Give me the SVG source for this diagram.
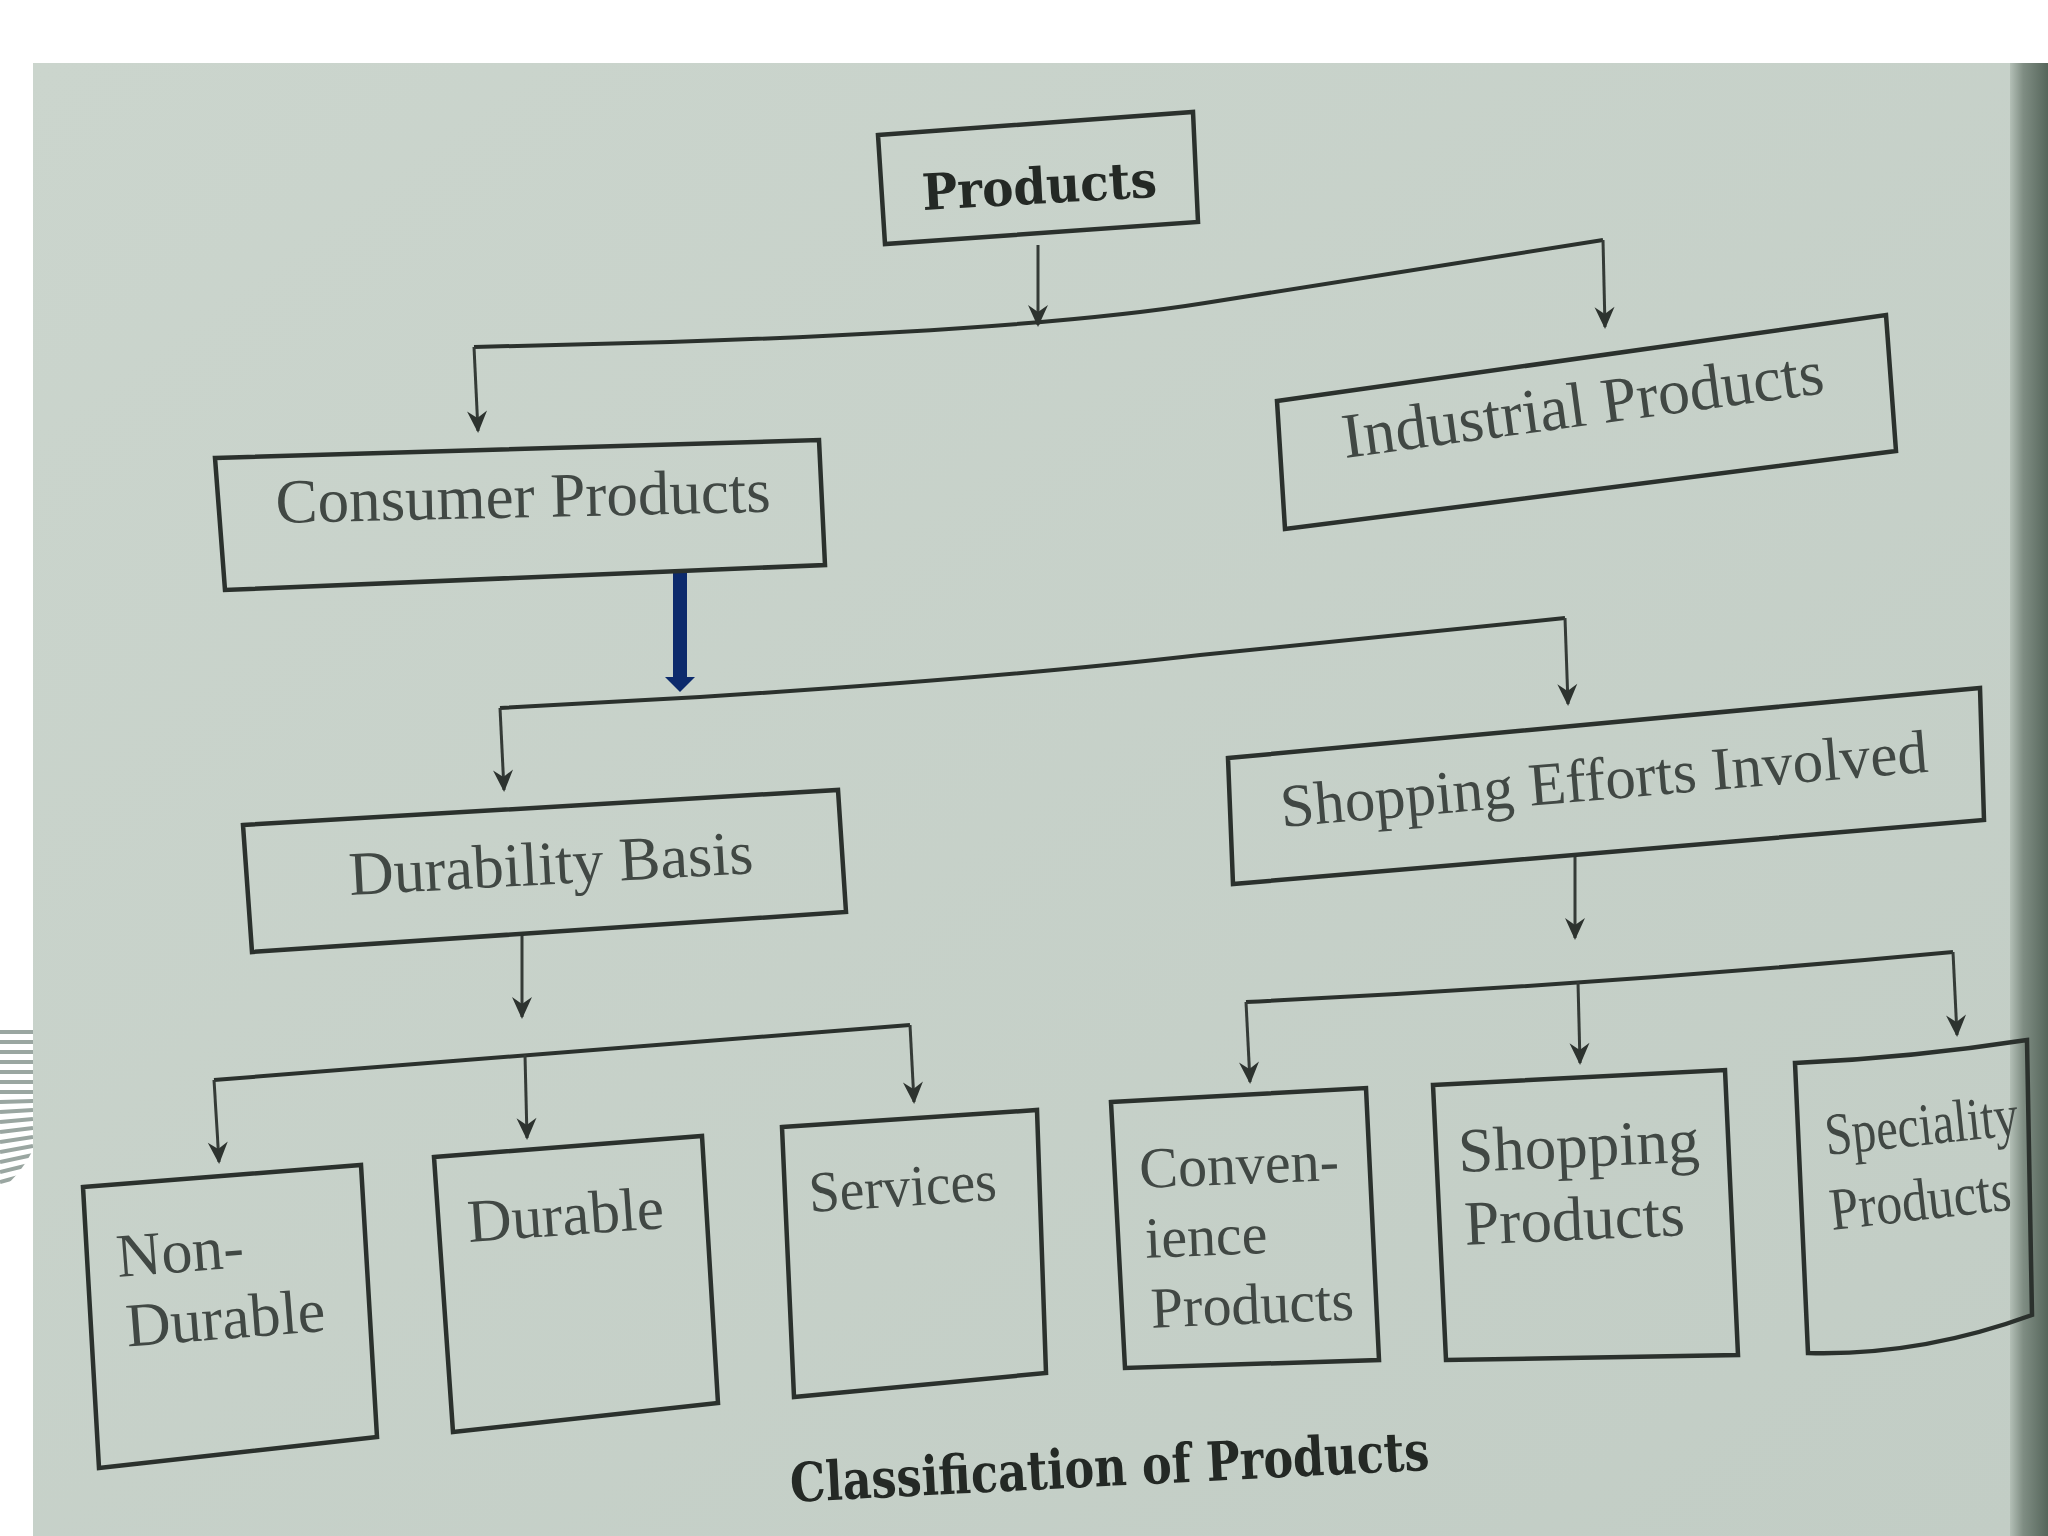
<svg xmlns="http://www.w3.org/2000/svg" width="2048" height="1536" viewBox="0 0 2048 1536">
<defs>
  <linearGradient id="page" x1="0" y1="0" x2="1" y2="1">
    <stop offset="0" stop-color="#cbd5cd"/>
    <stop offset="1" stop-color="#c2cdc5"/>
  </linearGradient>
  <linearGradient id="edge" x1="0" y1="0" x2="1" y2="0">
    <stop offset="0" stop-color="#b3bfb6"/>
    <stop offset="0.35" stop-color="#7f8d83"/>
    <stop offset="1" stop-color="#56665b"/>
  </linearGradient>
  <marker id="ah" markerUnits="userSpaceOnUse" markerWidth="26" markerHeight="26" viewBox="-22 -13 26 26" refX="0" refY="0" orient="auto">
    <path d="M2,0 L-20,-10 L-13,0 L-20,10 Z" fill="#2d332f"/>
  </marker>
  <clipPath id="stripeClip"><path d="M0,1027 L33,1027 L33,1150 Q20,1176 0,1190 Z"/></clipPath>
</defs>
<style>
  .box{fill:none;stroke:#2b312d;stroke-width:4.5;stroke-linejoin:miter}
  .con{fill:none;stroke:#2b312d;stroke-width:4}
  .arr{fill:none;stroke:#353b37;stroke-width:3;marker-end:url(#ah)}
  .lbl{font-family:"Liberation Serif","Times New Roman",serif;fill:#414844}
  .bold{font-family:"DejaVu Serif","Liberation Serif",serif;font-weight:bold;fill:#242925}
</style>

<!-- background -->
<rect x="0" y="0" width="2048" height="1536" fill="#ffffff"/>
<rect x="33" y="63" width="1985" height="1473" fill="url(#page)"/>
<rect x="2010" y="63" width="38" height="1473" fill="url(#edge)"/>
<g clip-path="url(#stripeClip)" stroke="#9aa6a1" stroke-width="4">
  <line x1="0" y1="1032" x2="33" y2="1032"/>
  <line x1="0" y1="1042" x2="33" y2="1042"/>
  <line x1="0" y1="1052" x2="33" y2="1052"/>
  <line x1="0" y1="1062" x2="33" y2="1062"/>
  <line x1="0" y1="1072" x2="33" y2="1072"/>
  <line x1="0" y1="1082" x2="33" y2="1082"/>
  <line x1="0" y1="1092" x2="33" y2="1092"/>
  <line x1="0" y1="1102" x2="33" y2="1101"/>
  <line x1="0" y1="1112" x2="33" y2="1110"/>
  <line x1="0" y1="1122" x2="33" y2="1119"/>
  <line x1="0" y1="1132" x2="33" y2="1128"/>
  <line x1="0" y1="1142" x2="33" y2="1137"/>
  <line x1="0" y1="1152" x2="33" y2="1146"/>
  <line x1="0" y1="1162" x2="33" y2="1155"/>
  <line x1="0" y1="1172" x2="33" y2="1164"/>
  <line x1="0" y1="1182" x2="33" y2="1173"/>
</g>

<!-- connectors -->
<g id="connectors">
  <path class="arr" d="M1038,245 L1038,325"/>
  <path class="con" d="M474,347 L670,342 Q1037,330 1205,303 L1603,240"/>
  <path class="arr" d="M474,347 L478,431"/>
  <path class="arr" d="M1603,240 L1605,327"/>

  <rect x="673" y="573" width="14" height="106" fill="#0c2a6c"/>
  <polygon points="665,677 695,677 680,692" fill="#0c2a6c"/>

  <path class="con" d="M500,708 L700,697 Q1000,678 1200,655 L1565,618"/>
  <path class="arr" d="M500,708 L504,790"/>
  <path class="arr" d="M1565,618 L1568,704"/>

  <path class="arr" d="M522,934 L522,1017"/>
  <path class="con" d="M214,1080 L910,1025"/>
  <path class="arr" d="M214,1080 L219,1162"/>
  <path class="arr" d="M525,1055 L527,1138"/>
  <path class="arr" d="M910,1025 L914,1102"/>

  <path class="arr" d="M1575,856 L1575,938"/>
  <path class="con" d="M1246,1002 Q1600,985 1953,952"/>
  <path class="arr" d="M1246,1002 L1250,1082"/>
  <path class="arr" d="M1578,982 L1580,1063"/>
  <path class="arr" d="M1953,952 L1957,1035"/>
</g>

<!-- nodes -->
<g id="products">
  <path class="box" d="M878,135 L1193,112 L1198,222 L885,244 Z"/>
  <text class="bold" x="923" y="210" font-size="50" textLength="235" lengthAdjust="spacingAndGlyphs" transform="rotate(-3.2 923 210)">Products</text>
</g>
<g id="consumer">
  <path class="box" d="M215,458 L819,440 L825,565 L225,590 Z"/>
  <text class="lbl" x="276" y="523" font-size="63" transform="rotate(-1.3 276 523)">Consumer Products</text>
</g>
<g id="industrial">
  <path class="box" d="M1277,401 L1886,315 L1896,451 L1285,529 Z"/>
  <text class="lbl" x="1345" y="458" font-size="64" transform="rotate(-7.7 1345 458)">Industrial Products</text>
</g>
<g id="durability">
  <path class="box" d="M243,825 L838,790 L846,912 L252,952 Z"/>
  <text class="lbl" x="350" y="895" font-size="62" transform="rotate(-3.1 350 895)">Durability Basis</text>
</g>
<g id="shopping-efforts">
  <path class="box" d="M1228,758 L1980,688 L1984,820 L1233,884 Z"/>
  <text class="lbl" x="1282" y="827" font-size="61" transform="rotate(-4.9 1282 827)">Shopping Efforts Involved</text>
</g>
<g id="non-durable">
  <path class="box" d="M83,1187 L361,1165 L377,1437 L99,1468 Z"/>
  <text class="lbl" font-size="62" transform="rotate(-4.5 118 1277)"><tspan x="118" y="1277">Non-</tspan><tspan x="122" y="1347">Durable</tspan></text>
</g>
<g id="durable">
  <path class="box" d="M434,1157 L702,1136 L718,1403 L453,1432 Z"/>
  <text class="lbl" x="469" y="1242" font-size="61" transform="rotate(-4.1 469 1242)">Durable</text>
</g>
<g id="services">
  <path class="box" d="M782,1127 L1037,1110 L1046,1373 L794,1397 Z"/>
  <text class="lbl" x="810" y="1212" font-size="58" textLength="188" lengthAdjust="spacingAndGlyphs" transform="rotate(-3.7 810 1212)">Services</text>
</g>
<g id="convenience">
  <path class="box" d="M1111,1102 L1366,1088 L1379,1360 L1125,1368 Z"/>
  <text class="lbl" font-size="58" transform="rotate(-2.3 1140 1188)"><tspan x="1140" y="1188">Conven-</tspan><tspan x="1143" y="1258">ience</tspan><tspan x="1146" y="1328">Products</tspan></text>
</g>
<g id="shopping">
  <path class="box" d="M1433,1085 L1725,1070 L1738,1355 L1446,1360 Z"/>
  <text class="lbl" font-size="63" transform="rotate(-2.5 1459 1172)"><tspan x="1459" y="1172">Shopping</tspan><tspan x="1462" y="1245">Products</tspan></text>
</g>
<g id="speciality">
  <path class="box" d="M1795,1063 Q1910,1058 2027,1040 L2032,1315 Q1920,1356 1808,1353 Z"/>
  <text class="lbl" x="1827" y="1155" font-size="60" textLength="194" lengthAdjust="spacingAndGlyphs" transform="rotate(-6 1827 1155)">Speciality</text>
  <text class="lbl" x="1832" y="1230" font-size="60" textLength="182" lengthAdjust="spacingAndGlyphs" transform="rotate(-6.5 1832 1230)">Products</text>
</g>

<text class="bold" x="791" y="1502" font-size="54" textLength="640" lengthAdjust="spacingAndGlyphs" transform="rotate(-2.9 791 1502)">Classification of Products</text>
</svg>
